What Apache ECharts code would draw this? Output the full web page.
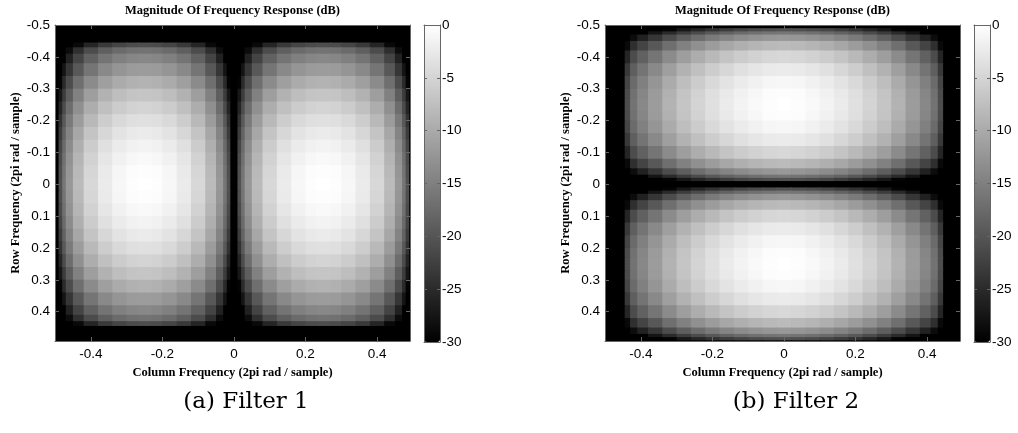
<!DOCTYPE html>
<html>
<head>
<meta charset="utf-8">
<script src="https://cdn.jsdelivr.net/npm/echarts@6/dist/echarts.min.js"></script>
<style>
    html, body { margin: 0; padding: 0; background: #fff; }
    #chart { width: 1018px; height: 433px; }
</style>
</head>
<body>
<div id="chart"></div>
<script>
// frequency bin edges (cycles / sample); narrow bins where the response falls to a zero
var notchEdges = [-0.5, -0.49, -0.48, -0.47, -0.45, -0.42, -0.38, -0.34, -0.30, -0.27, -0.23, -0.20, -0.16, -0.12,
    -0.08, -0.05, -0.03, -0.02, -0.01, 0, 0.01, 0.02, 0.03, 0.05, 0.08, 0.12, 0.16, 0.20, 0.23, 0.27, 0.30,
    0.34, 0.38, 0.42, 0.45, 0.47, 0.48, 0.49, 0.5];
var bandEdges = [-0.5, -0.445, -0.43, -0.41, -0.38, -0.34, -0.30, -0.26, -0.22, -0.18, -0.14, -0.10, -0.06, -0.02,
    0.02, 0.06, 0.10, 0.14, 0.18, 0.22, 0.26, 0.30, 0.34, 0.38, 0.41, 0.43, 0.445, 0.5];

// Filter 1: magnitude in dB, rows follow bandEdges (top = -0.5), columns follow notchEdges
var filter1Db = [
    [-30,-30,-30,-30,-30,-30,-30,-30,-30,-30,-30,-30,-30,-30,-30,-30,-30,-30,-30,-30,-30,-30,-30,-30,-30,-30,-30,-30,-30,-30,-30,-30,-30,-30,-30,-30,-30,-30],
    [-30,-30,-30,-30,-29,-25.6,-23.3,-21.9,-21.2,-21,-21.2,-21.9,-23.3,-25.6,-29,-30,-30,-30,-30,-30,-30,-30,-30,-29,-25.6,-23.3,-21.9,-21.2,-21,-21.2,-21.9,-23.3,-25.6,-29,-30,-30,-30,-30],
    [-30,-30,-30,-28.6,-24.5,-21.1,-18.8,-17.4,-16.7,-16.5,-16.7,-17.4,-18.8,-21.1,-24.5,-28.6,-30,-30,-30,-30,-30,-30,-28.6,-24.5,-21.1,-18.8,-17.4,-16.7,-16.5,-16.7,-17.4,-18.8,-21.1,-24.5,-28.6,-30,-30,-30],
    [-30,-30,-30,-26.1,-22,-18.6,-16.3,-14.9,-14.2,-14,-14.2,-14.9,-16.3,-18.6,-22,-26.1,-30,-30,-30,-30,-30,-30,-26.1,-22,-18.6,-16.3,-14.9,-14.2,-14,-14.2,-14.9,-16.3,-18.6,-22,-26.1,-30,-30,-30],
    [-30,-30,-27.7,-23.7,-19.6,-16.2,-13.9,-12.5,-11.8,-11.6,-11.8,-12.5,-13.9,-16.2,-19.6,-23.7,-27.7,-30,-30,-30,-30,-27.7,-23.7,-19.6,-16.2,-13.9,-12.5,-11.8,-11.6,-11.8,-12.5,-13.9,-16.2,-19.6,-23.7,-27.7,-30,-30],
    [-30,-29.5,-25.1,-21.1,-17,-13.6,-11.3,-9.9,-9.2,-9,-9.2,-9.9,-11.3,-13.6,-17,-21.1,-25.1,-29.5,-30,-30,-29.5,-25.1,-21.1,-17,-13.6,-11.3,-9.9,-9.2,-9,-9.2,-9.9,-11.3,-13.6,-17,-21.1,-25.1,-29.5,-30],
    [-30,-27.3,-22.9,-18.9,-14.8,-11.4,-9.1,-7.7,-7,-6.8,-7,-7.7,-9.1,-11.4,-14.8,-18.9,-22.9,-27.3,-30,-30,-27.3,-22.9,-18.9,-14.8,-11.4,-9.1,-7.7,-7,-6.8,-7,-7.7,-9.1,-11.4,-14.8,-18.9,-22.9,-27.3,-30],
    [-30,-25.6,-21.2,-17.2,-13.1,-9.7,-7.4,-6,-5.3,-5.1,-5.3,-6,-7.4,-9.7,-13.1,-17.2,-21.2,-25.6,-30,-30,-25.6,-21.2,-17.2,-13.1,-9.7,-7.4,-6,-5.3,-5.1,-5.3,-6,-7.4,-9.7,-13.1,-17.2,-21.2,-25.6,-30],
    [-30,-24.1,-19.7,-15.7,-11.6,-8.2,-5.9,-4.5,-3.8,-3.6,-3.8,-4.5,-5.9,-8.2,-11.6,-15.7,-19.7,-24.1,-30,-30,-24.1,-19.7,-15.7,-11.6,-8.2,-5.9,-4.5,-3.8,-3.6,-3.8,-4.5,-5.9,-8.2,-11.6,-15.7,-19.7,-24.1,-30],
    [-30,-22.9,-18.5,-14.5,-10.4,-7,-4.7,-3.3,-2.6,-2.4,-2.6,-3.3,-4.7,-7,-10.4,-14.5,-18.5,-22.9,-30,-30,-22.9,-18.5,-14.5,-10.4,-7,-4.7,-3.3,-2.6,-2.4,-2.6,-3.3,-4.7,-7,-10.4,-14.5,-18.5,-22.9,-30],
    [-30,-21.9,-17.5,-13.5,-9.4,-6,-3.7,-2.3,-1.6,-1.4,-1.6,-2.3,-3.7,-6,-9.4,-13.5,-17.5,-21.9,-30,-30,-21.9,-17.5,-13.5,-9.4,-6,-3.7,-2.3,-1.6,-1.4,-1.6,-2.3,-3.7,-6,-9.4,-13.5,-17.5,-21.9,-30],
    [-30,-21.2,-16.8,-12.8,-8.7,-5.3,-3,-1.6,-0.9,-0.7,-0.9,-1.6,-3,-5.3,-8.7,-12.8,-16.8,-21.2,-30,-30,-21.2,-16.8,-12.8,-8.7,-5.3,-3,-1.6,-0.9,-0.7,-0.9,-1.6,-3,-5.3,-8.7,-12.8,-16.8,-21.2,-30],
    [-30,-20.7,-16.3,-12.3,-8.2,-4.8,-2.5,-1.1,-0.4,-0.2,-0.4,-1.1,-2.5,-4.8,-8.2,-12.3,-16.3,-20.7,-30,-30,-20.7,-16.3,-12.3,-8.2,-4.8,-2.5,-1.1,-0.4,-0.2,-0.4,-1.1,-2.5,-4.8,-8.2,-12.3,-16.3,-20.7,-30],
    [-30,-20.5,-16.1,-12.1,-8,-4.6,-2.3,-0.9,-0.2,0,-0.2,-0.9,-2.3,-4.6,-8,-12.1,-16.1,-20.5,-30,-30,-20.5,-16.1,-12.1,-8,-4.6,-2.3,-0.9,-0.2,0,-0.2,-0.9,-2.3,-4.6,-8,-12.1,-16.1,-20.5,-30],
    [-30,-20.7,-16.3,-12.3,-8.2,-4.8,-2.5,-1.1,-0.4,-0.2,-0.4,-1.1,-2.5,-4.8,-8.2,-12.3,-16.3,-20.7,-30,-30,-20.7,-16.3,-12.3,-8.2,-4.8,-2.5,-1.1,-0.4,-0.2,-0.4,-1.1,-2.5,-4.8,-8.2,-12.3,-16.3,-20.7,-30],
    [-30,-21.2,-16.8,-12.8,-8.7,-5.3,-3,-1.6,-0.9,-0.7,-0.9,-1.6,-3,-5.3,-8.7,-12.8,-16.8,-21.2,-30,-30,-21.2,-16.8,-12.8,-8.7,-5.3,-3,-1.6,-0.9,-0.7,-0.9,-1.6,-3,-5.3,-8.7,-12.8,-16.8,-21.2,-30],
    [-30,-21.9,-17.5,-13.5,-9.4,-6,-3.7,-2.3,-1.6,-1.4,-1.6,-2.3,-3.7,-6,-9.4,-13.5,-17.5,-21.9,-30,-30,-21.9,-17.5,-13.5,-9.4,-6,-3.7,-2.3,-1.6,-1.4,-1.6,-2.3,-3.7,-6,-9.4,-13.5,-17.5,-21.9,-30],
    [-30,-22.9,-18.5,-14.5,-10.4,-7,-4.7,-3.3,-2.6,-2.4,-2.6,-3.3,-4.7,-7,-10.4,-14.5,-18.5,-22.9,-30,-30,-22.9,-18.5,-14.5,-10.4,-7,-4.7,-3.3,-2.6,-2.4,-2.6,-3.3,-4.7,-7,-10.4,-14.5,-18.5,-22.9,-30],
    [-30,-24.1,-19.7,-15.7,-11.6,-8.2,-5.9,-4.5,-3.8,-3.6,-3.8,-4.5,-5.9,-8.2,-11.6,-15.7,-19.7,-24.1,-30,-30,-24.1,-19.7,-15.7,-11.6,-8.2,-5.9,-4.5,-3.8,-3.6,-3.8,-4.5,-5.9,-8.2,-11.6,-15.7,-19.7,-24.1,-30],
    [-30,-25.6,-21.2,-17.2,-13.1,-9.7,-7.4,-6,-5.3,-5.1,-5.3,-6,-7.4,-9.7,-13.1,-17.2,-21.2,-25.6,-30,-30,-25.6,-21.2,-17.2,-13.1,-9.7,-7.4,-6,-5.3,-5.1,-5.3,-6,-7.4,-9.7,-13.1,-17.2,-21.2,-25.6,-30],
    [-30,-27.3,-22.9,-18.9,-14.8,-11.4,-9.1,-7.7,-7,-6.8,-7,-7.7,-9.1,-11.4,-14.8,-18.9,-22.9,-27.3,-30,-30,-27.3,-22.9,-18.9,-14.8,-11.4,-9.1,-7.7,-7,-6.8,-7,-7.7,-9.1,-11.4,-14.8,-18.9,-22.9,-27.3,-30],
    [-30,-29.5,-25.1,-21.1,-17,-13.6,-11.3,-9.9,-9.2,-9,-9.2,-9.9,-11.3,-13.6,-17,-21.1,-25.1,-29.5,-30,-30,-29.5,-25.1,-21.1,-17,-13.6,-11.3,-9.9,-9.2,-9,-9.2,-9.9,-11.3,-13.6,-17,-21.1,-25.1,-29.5,-30],
    [-30,-30,-27.7,-23.7,-19.6,-16.2,-13.9,-12.5,-11.8,-11.6,-11.8,-12.5,-13.9,-16.2,-19.6,-23.7,-27.7,-30,-30,-30,-30,-27.7,-23.7,-19.6,-16.2,-13.9,-12.5,-11.8,-11.6,-11.8,-12.5,-13.9,-16.2,-19.6,-23.7,-27.7,-30,-30],
    [-30,-30,-30,-26.1,-22,-18.6,-16.3,-14.9,-14.2,-14,-14.2,-14.9,-16.3,-18.6,-22,-26.1,-30,-30,-30,-30,-30,-30,-26.1,-22,-18.6,-16.3,-14.9,-14.2,-14,-14.2,-14.9,-16.3,-18.6,-22,-26.1,-30,-30,-30],
    [-30,-30,-30,-28.6,-24.5,-21.1,-18.8,-17.4,-16.7,-16.5,-16.7,-17.4,-18.8,-21.1,-24.5,-28.6,-30,-30,-30,-30,-30,-30,-28.6,-24.5,-21.1,-18.8,-17.4,-16.7,-16.5,-16.7,-17.4,-18.8,-21.1,-24.5,-28.6,-30,-30,-30],
    [-30,-30,-30,-30,-29,-25.6,-23.3,-21.9,-21.2,-21,-21.2,-21.9,-23.3,-25.6,-29,-30,-30,-30,-30,-30,-30,-30,-30,-29,-25.6,-23.3,-21.9,-21.2,-21,-21.2,-21.9,-23.3,-25.6,-29,-30,-30,-30,-30],
    [-30,-30,-30,-30,-30,-30,-30,-30,-30,-30,-30,-30,-30,-30,-30,-30,-30,-30,-30,-30,-30,-30,-30,-30,-30,-30,-30,-30,-30,-30,-30,-30,-30,-30,-30,-30,-30,-30]
];

// Filter 2: rows follow notchEdges (top = -0.5), columns follow bandEdges
var filter2Db = [
    [-30,-30,-30,-30,-30,-30,-30,-30,-30,-30,-30,-30,-30,-30,-30,-30,-30,-30,-30,-30,-30,-30,-30,-30,-30,-30,-30],
    [-30,-30,-30,-30,-30,-29.5,-27.3,-25.6,-24.1,-22.9,-21.9,-21.2,-20.7,-20.5,-20.7,-21.2,-21.9,-22.9,-24.1,-25.6,-27.3,-29.5,-30,-30,-30,-30,-30],
    [-30,-30,-30,-30,-27.7,-25.1,-22.9,-21.2,-19.7,-18.5,-17.5,-16.8,-16.3,-16.1,-16.3,-16.8,-17.5,-18.5,-19.7,-21.2,-22.9,-25.1,-27.7,-30,-30,-30,-30],
    [-30,-30,-28.6,-26.1,-23.7,-21.1,-18.9,-17.2,-15.7,-14.5,-13.5,-12.8,-12.3,-12.1,-12.3,-12.8,-13.5,-14.5,-15.7,-17.2,-18.9,-21.1,-23.7,-26.1,-28.6,-30,-30],
    [-30,-29,-24.5,-22,-19.6,-17,-14.8,-13.1,-11.6,-10.4,-9.4,-8.7,-8.2,-8,-8.2,-8.7,-9.4,-10.4,-11.6,-13.1,-14.8,-17,-19.6,-22,-24.5,-29,-30],
    [-30,-25.6,-21.1,-18.6,-16.2,-13.6,-11.4,-9.7,-8.2,-7,-6,-5.3,-4.8,-4.6,-4.8,-5.3,-6,-7,-8.2,-9.7,-11.4,-13.6,-16.2,-18.6,-21.1,-25.6,-30],
    [-30,-23.3,-18.8,-16.3,-13.9,-11.3,-9.1,-7.4,-5.9,-4.7,-3.7,-3,-2.5,-2.3,-2.5,-3,-3.7,-4.7,-5.9,-7.4,-9.1,-11.3,-13.9,-16.3,-18.8,-23.3,-30],
    [-30,-21.9,-17.4,-14.9,-12.5,-9.9,-7.7,-6,-4.5,-3.3,-2.3,-1.6,-1.1,-0.9,-1.1,-1.6,-2.3,-3.3,-4.5,-6,-7.7,-9.9,-12.5,-14.9,-17.4,-21.9,-30],
    [-30,-21.2,-16.7,-14.2,-11.8,-9.2,-7,-5.3,-3.8,-2.6,-1.6,-0.9,-0.4,-0.2,-0.4,-0.9,-1.6,-2.6,-3.8,-5.3,-7,-9.2,-11.8,-14.2,-16.7,-21.2,-30],
    [-30,-21,-16.5,-14,-11.6,-9,-6.8,-5.1,-3.6,-2.4,-1.4,-0.7,-0.2,0,-0.2,-0.7,-1.4,-2.4,-3.6,-5.1,-6.8,-9,-11.6,-14,-16.5,-21,-30],
    [-30,-21.2,-16.7,-14.2,-11.8,-9.2,-7,-5.3,-3.8,-2.6,-1.6,-0.9,-0.4,-0.2,-0.4,-0.9,-1.6,-2.6,-3.8,-5.3,-7,-9.2,-11.8,-14.2,-16.7,-21.2,-30],
    [-30,-21.9,-17.4,-14.9,-12.5,-9.9,-7.7,-6,-4.5,-3.3,-2.3,-1.6,-1.1,-0.9,-1.1,-1.6,-2.3,-3.3,-4.5,-6,-7.7,-9.9,-12.5,-14.9,-17.4,-21.9,-30],
    [-30,-23.3,-18.8,-16.3,-13.9,-11.3,-9.1,-7.4,-5.9,-4.7,-3.7,-3,-2.5,-2.3,-2.5,-3,-3.7,-4.7,-5.9,-7.4,-9.1,-11.3,-13.9,-16.3,-18.8,-23.3,-30],
    [-30,-25.6,-21.1,-18.6,-16.2,-13.6,-11.4,-9.7,-8.2,-7,-6,-5.3,-4.8,-4.6,-4.8,-5.3,-6,-7,-8.2,-9.7,-11.4,-13.6,-16.2,-18.6,-21.1,-25.6,-30],
    [-30,-29,-24.5,-22,-19.6,-17,-14.8,-13.1,-11.6,-10.4,-9.4,-8.7,-8.2,-8,-8.2,-8.7,-9.4,-10.4,-11.6,-13.1,-14.8,-17,-19.6,-22,-24.5,-29,-30],
    [-30,-30,-28.6,-26.1,-23.7,-21.1,-18.9,-17.2,-15.7,-14.5,-13.5,-12.8,-12.3,-12.1,-12.3,-12.8,-13.5,-14.5,-15.7,-17.2,-18.9,-21.1,-23.7,-26.1,-28.6,-30,-30],
    [-30,-30,-30,-30,-27.7,-25.1,-22.9,-21.2,-19.7,-18.5,-17.5,-16.8,-16.3,-16.1,-16.3,-16.8,-17.5,-18.5,-19.7,-21.2,-22.9,-25.1,-27.7,-30,-30,-30,-30],
    [-30,-30,-30,-30,-30,-29.5,-27.3,-25.6,-24.1,-22.9,-21.9,-21.2,-20.7,-20.5,-20.7,-21.2,-21.9,-22.9,-24.1,-25.6,-27.3,-29.5,-30,-30,-30,-30,-30],
    [-30,-30,-30,-30,-30,-30,-30,-30,-30,-30,-30,-30,-30,-30,-30,-30,-30,-30,-30,-30,-30,-30,-30,-30,-30,-30,-30],
    [-30,-30,-30,-30,-30,-30,-30,-30,-30,-30,-30,-30,-30,-30,-30,-30,-30,-30,-30,-30,-30,-30,-30,-30,-30,-30,-30],
    [-30,-30,-30,-30,-30,-29.5,-27.3,-25.6,-24.1,-22.9,-21.9,-21.2,-20.7,-20.5,-20.7,-21.2,-21.9,-22.9,-24.1,-25.6,-27.3,-29.5,-30,-30,-30,-30,-30],
    [-30,-30,-30,-30,-27.7,-25.1,-22.9,-21.2,-19.7,-18.5,-17.5,-16.8,-16.3,-16.1,-16.3,-16.8,-17.5,-18.5,-19.7,-21.2,-22.9,-25.1,-27.7,-30,-30,-30,-30],
    [-30,-30,-28.6,-26.1,-23.7,-21.1,-18.9,-17.2,-15.7,-14.5,-13.5,-12.8,-12.3,-12.1,-12.3,-12.8,-13.5,-14.5,-15.7,-17.2,-18.9,-21.1,-23.7,-26.1,-28.6,-30,-30],
    [-30,-29,-24.5,-22,-19.6,-17,-14.8,-13.1,-11.6,-10.4,-9.4,-8.7,-8.2,-8,-8.2,-8.7,-9.4,-10.4,-11.6,-13.1,-14.8,-17,-19.6,-22,-24.5,-29,-30],
    [-30,-25.6,-21.1,-18.6,-16.2,-13.6,-11.4,-9.7,-8.2,-7,-6,-5.3,-4.8,-4.6,-4.8,-5.3,-6,-7,-8.2,-9.7,-11.4,-13.6,-16.2,-18.6,-21.1,-25.6,-30],
    [-30,-23.3,-18.8,-16.3,-13.9,-11.3,-9.1,-7.4,-5.9,-4.7,-3.7,-3,-2.5,-2.3,-2.5,-3,-3.7,-4.7,-5.9,-7.4,-9.1,-11.3,-13.9,-16.3,-18.8,-23.3,-30],
    [-30,-21.9,-17.4,-14.9,-12.5,-9.9,-7.7,-6,-4.5,-3.3,-2.3,-1.6,-1.1,-0.9,-1.1,-1.6,-2.3,-3.3,-4.5,-6,-7.7,-9.9,-12.5,-14.9,-17.4,-21.9,-30],
    [-30,-21.2,-16.7,-14.2,-11.8,-9.2,-7,-5.3,-3.8,-2.6,-1.6,-0.9,-0.4,-0.2,-0.4,-0.9,-1.6,-2.6,-3.8,-5.3,-7,-9.2,-11.8,-14.2,-16.7,-21.2,-30],
    [-30,-21,-16.5,-14,-11.6,-9,-6.8,-5.1,-3.6,-2.4,-1.4,-0.7,-0.2,0,-0.2,-0.7,-1.4,-2.4,-3.6,-5.1,-6.8,-9,-11.6,-14,-16.5,-21,-30],
    [-30,-21.2,-16.7,-14.2,-11.8,-9.2,-7,-5.3,-3.8,-2.6,-1.6,-0.9,-0.4,-0.2,-0.4,-0.9,-1.6,-2.6,-3.8,-5.3,-7,-9.2,-11.8,-14.2,-16.7,-21.2,-30],
    [-30,-21.9,-17.4,-14.9,-12.5,-9.9,-7.7,-6,-4.5,-3.3,-2.3,-1.6,-1.1,-0.9,-1.1,-1.6,-2.3,-3.3,-4.5,-6,-7.7,-9.9,-12.5,-14.9,-17.4,-21.9,-30],
    [-30,-23.3,-18.8,-16.3,-13.9,-11.3,-9.1,-7.4,-5.9,-4.7,-3.7,-3,-2.5,-2.3,-2.5,-3,-3.7,-4.7,-5.9,-7.4,-9.1,-11.3,-13.9,-16.3,-18.8,-23.3,-30],
    [-30,-25.6,-21.1,-18.6,-16.2,-13.6,-11.4,-9.7,-8.2,-7,-6,-5.3,-4.8,-4.6,-4.8,-5.3,-6,-7,-8.2,-9.7,-11.4,-13.6,-16.2,-18.6,-21.1,-25.6,-30],
    [-30,-29,-24.5,-22,-19.6,-17,-14.8,-13.1,-11.6,-10.4,-9.4,-8.7,-8.2,-8,-8.2,-8.7,-9.4,-10.4,-11.6,-13.1,-14.8,-17,-19.6,-22,-24.5,-29,-30],
    [-30,-30,-28.6,-26.1,-23.7,-21.1,-18.9,-17.2,-15.7,-14.5,-13.5,-12.8,-12.3,-12.1,-12.3,-12.8,-13.5,-14.5,-15.7,-17.2,-18.9,-21.1,-23.7,-26.1,-28.6,-30,-30],
    [-30,-30,-30,-30,-27.7,-25.1,-22.9,-21.2,-19.7,-18.5,-17.5,-16.8,-16.3,-16.1,-16.3,-16.8,-17.5,-18.5,-19.7,-21.2,-22.9,-25.1,-27.7,-30,-30,-30,-30],
    [-30,-30,-30,-30,-30,-29.5,-27.3,-25.6,-24.1,-22.9,-21.9,-21.2,-20.7,-20.5,-20.7,-21.2,-21.9,-22.9,-24.1,-25.6,-27.3,-29.5,-30,-30,-30,-30,-30],
    [-30,-30,-30,-30,-30,-30,-30,-30,-30,-30,-30,-30,-30,-30,-30,-30,-30,-30,-30,-30,-30,-30,-30,-30,-30,-30,-30]
];

var xTicks = [-0.4, -0.2, 0, 0.2, 0.4];
var yTicks = [-0.5, -0.4, -0.3, -0.2, -0.1, 0, 0.1, 0.2, 0.3, 0.4];
var barTicks = [-30, -25, -20, -15, -10, -5, 0];
var freqMin = -0.5, freqMax = 0.4922;

var labelFont = { fontFamily: 'Liberation Sans', fontSize: 13.5, color: '#000' };
var nameFont = { fontFamily: 'Liberation Serif', fontWeight: 'bold', fontSize: 12.5, color: '#000' };
var frameColor = '#666';

// one item per bin: [x0, x1, y0, y1, dB]
function toCells(db, xEdges, yEdges) {
    var out = [];
    for (var i = 0; i < yEdges.length - 1; i++) {
        for (var j = 0; j < xEdges.length - 1; j++) {
            out.push([xEdges[j], xEdges[j + 1], yEdges[i], yEdges[i + 1], db[i][j]]);
        }
    }
    return out;
}

function renderCell(params, api) {
    var p0 = api.coord([api.value(0), api.value(2)]);
    var p1 = api.coord([api.value(1), api.value(3)]);
    var cs = params.coordSys;
    var rect = echarts.graphic.clipRectByRect({
        x: Math.min(p0[0], p1[0]),
        y: Math.min(p0[1], p1[1]),
        width: Math.abs(p1[0] - p0[0]) + 1,
        height: Math.abs(p1[1] - p0[1]) + 1
    }, { x: cs.x, y: cs.y, width: cs.width, height: cs.height });
    return rect && { type: 'rect', shape: rect, style: { fill: api.visual('color') } };
}

function freqX(grid, pos, show) {
    return {
        type: 'value', gridIndex: grid, position: pos, min: freqMin, max: freqMax, z: 10,
        axisLine: { show: true, onZero: false, lineStyle: { color: frameColor } },
        axisTick: { inside: true, length: 4, customValues: xTicks, lineStyle: { color: frameColor } },
        axisLabel: show ? Object.assign({ margin: 6, customValues: xTicks }, labelFont) : { show: false },
        splitLine: { show: false },
        name: show ? 'Column Frequency (2pi rad / sample)' : '',
        nameLocation: 'middle', nameGap: 24, nameTextStyle: nameFont
    };
}
function freqY(grid, pos, show) {
    return {
        type: 'value', gridIndex: grid, position: pos, min: freqMin, max: freqMax, inverse: true, z: 10,
        axisLine: { show: true, onZero: false, lineStyle: { color: frameColor } },
        axisTick: { inside: true, length: 4, customValues: yTicks, lineStyle: { color: frameColor } },
        axisLabel: show ? Object.assign({ margin: 5, customValues: yTicks }, labelFont) : { show: false },
        splitLine: { show: false },
        name: show ? 'Row Frequency (2pi rad / sample)' : '',
        nameLocation: 'middle', nameGap: 33, nameTextStyle: nameFont
    };
}
function barX(grid, pos) {
    return {
        type: 'value', gridIndex: grid, position: pos, min: 0, max: 1, z: 10,
        axisLine: { show: true, onZero: false, lineStyle: { color: frameColor } },
        axisTick: { show: false }, axisLabel: { show: false }, splitLine: { show: false }
    };
}
function barY(grid, pos, show) {
    return {
        type: 'value', gridIndex: grid, position: pos, min: -30, max: 0, z: 10,
        axisLine: { show: true, onZero: false, lineStyle: { color: frameColor } },
        axisTick: { inside: true, length: 3, customValues: barTicks, lineStyle: { color: frameColor } },
        axisLabel: show ? Object.assign({ margin: 2, customValues: barTicks }, labelFont) : { show: false },
        splitLine: { show: false }
    };
}
function textAt(x, y, text, font) {
    return {
        type: 'text', x: x, y: y,
        style: { text: text, font: font, fill: '#000', align: 'center', verticalAlign: 'middle',
            textAlign: 'center', textVerticalAlign: 'middle' }
    };
}
function grayBar(seriesIndex, left) {
    return {
        type: 'continuous', seriesIndex: seriesIndex, dimension: 4, min: -30, max: 0, calculable: false,
        left: left, top: 25, itemWidth: 16, itemHeight: 317, padding: 0, orient: 'vertical',
        inRange: { color: ['#000000', '#ffffff'] }, hoverLink: false
    };
}

var chart = echarts.init(document.getElementById('chart'));
var option = {
    backgroundColor: '#fff',
    animation: false,
    grid: [
        { left: 55, top: 25, width: 355, height: 316 },
        { left: 605, top: 25, width: 355, height: 316 },
        { left: 424, top: 25, width: 16, height: 317 },
        { left: 974, top: 25, width: 16, height: 317 }
    ],
    xAxis: [
        freqX(0, 'bottom', true), freqX(0, 'top', false),
        freqX(1, 'bottom', true), freqX(1, 'top', false),
        barX(2, 'bottom'), barX(2, 'top'),
        barX(3, 'bottom'), barX(3, 'top')
    ],
    yAxis: [
        freqY(0, 'left', true), freqY(0, 'right', false),
        freqY(1, 'left', true), freqY(1, 'right', false),
        barY(2, 'right', true), barY(2, 'left', false),
        barY(3, 'right', true), barY(3, 'left', false)
    ],
    visualMap: [grayBar(0, 424), grayBar(1, 974)],
    series: [
        { type: 'custom', name: 'Filter 1', xAxisIndex: 0, yAxisIndex: 0, renderItem: renderCell,
            data: toCells(filter1Db, notchEdges, bandEdges), z: 2, silent: true },
        { type: 'custom', name: 'Filter 2', xAxisIndex: 2, yAxisIndex: 2, renderItem: renderCell,
            data: toCells(filter2Db, bandEdges, notchEdges), z: 2, silent: true }
    ],
    graphic: [
        textAt(232.5, 11, 'Magnitude Of Frequency Response (dB)', 'bold 12.5px "Liberation Serif"'),
        textAt(782.5, 11, 'Magnitude Of Frequency Response (dB)', 'bold 12.5px "Liberation Serif"'),
        textAt(246, 402, '(a) Filter 1', '23px "DejaVu Serif"'),
        textAt(796, 402, '(b) Filter 2', '23px "DejaVu Serif"')
    ]
};
chart.setOption(option);
</script>
</body>
</html>
